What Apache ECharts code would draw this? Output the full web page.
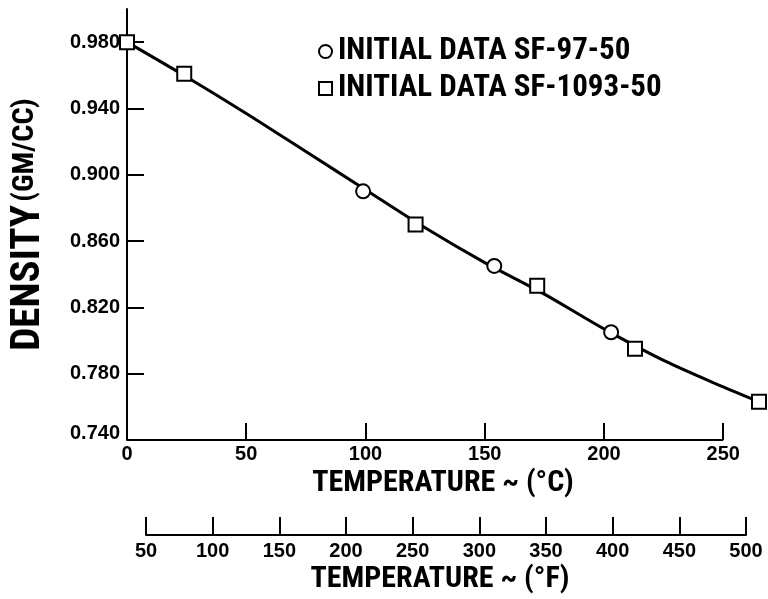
<!DOCTYPE html>
<html>
<head>
<meta charset="utf-8">
<script src="https://cdn.jsdelivr.net/npm/echarts@6/dist/echarts.min.js"></script>
<style>
  html, body { margin: 0; padding: 0; background: #ffffff; }
  #chart { width: 768px; height: 599px; }
</style>
</head>
<body>
<div id="chart"></div>
<script>
// Fonts: a condensed bold face for titles and legend, plain bold for tick numbers
const TITLE_FONT = "'Roboto Condensed', 'Fira Sans Condensed', 'Archivo Narrow', sans-serif";
const TICK_FONT = "'Liberation Sans', 'DejaVu Sans', sans-serif";

// Axis ticks
const densityTicks = [0.740, 0.780, 0.820, 0.860, 0.900, 0.940, 0.980];
const celsiusTicks = [0, 50, 100, 150, 200, 250];
const fahrenheitTicks = [50, 100, 150, 200, 250, 300, 350, 400, 450, 500];

// Measured densities (temperature in °C, density in gm/cc)
const sf97Temp = [99, 154, 203];
const sf97Density = [0.890, 0.845, 0.805];
const sf1093Temp = [0, 24, 121, 172, 213, 265];
const sf1093Density = [0.980, 0.961, 0.870, 0.833, 0.795, 0.763];

// Smoothed density curve
const curveTemp = [0, 25, 50, 75, 100, 125, 150, 175, 200, 225, 250, 265];
const curveDensity = [0.980, 0.959, 0.937, 0.914, 0.891, 0.868, 0.847, 0.828, 0.807, 0.788, 0.772, 0.763];

const legendNames = ['INITIAL DATA SF-97-50', 'INITIAL DATA SF-1093-50'];

const pairs = (xs, ys) => xs.map((x, i) => [x, ys[i]]);

const chart = echarts.init(document.getElementById('chart'), null, { renderer: 'canvas' });

const tickLabelStyle = {
  color: '#000',
  fontFamily: TICK_FONT,
  fontWeight: 'bold',
  fontSize: 20
};
const titleStyle = {
  color: '#000',
  fontFamily: TITLE_FONT,
  fontWeight: 'bold',
  fontSize: 30
};

// The °C scale runs a little past its last tick so the final reading fits;
// the drawn baseline stops at the last tick.
const cMin = 0;
const cMax = 265;
const densityMin = 0.74;
const densityMax = 1.0;

chart.setOption({
  backgroundColor: '#ffffff',
  animation: false,
  grid: [
    { left: 123, right: 9, top: 9, bottom: 159 },
    { left: 146, right: 22, top: 500, bottom: 64 }
  ],
  legend: {
    data: [
      { name: legendNames[0], icon: 'circle' },
      { name: legendNames[1], icon: 'rect' }
    ],
    orient: 'vertical',
    left: 313,
    top: 31,
    itemWidth: 13,
    itemHeight: 13,
    itemGap: 6,
    selectedMode: false,
    textStyle: {
      color: '#000',
      fontFamily: TITLE_FONT,
      fontWeight: 'bold',
      fontSize: 31,
      padding: [0, 0, 0, 1]
    }
  },
  xAxis: [
    {
      gridIndex: 0,
      type: 'value',
      min: cMin,
      max: cMax,
      splitLine: { show: false },
      axisLine: { show: false },
      axisTick: {
        inside: true,
        length: 17,
        customValues: celsiusTicks,
        lineStyle: { color: '#000', width: 2 }
      },
      axisLabel: Object.assign({ margin: 4, customValues: celsiusTicks }, tickLabelStyle),
      name: 'TEMPERATURE ~ (°C)',
      nameLocation: 'middle',
      nameGap: 28,
      nameTextStyle: titleStyle
    },
    {
      gridIndex: 1,
      type: 'value',
      min: 50,
      max: 500,
      interval: 50,
      splitLine: { show: false },
      axisLine: { lineStyle: { color: '#000', width: 2 } },
      axisTick: {
        inside: true,
        length: 18,
        customValues: fahrenheitTicks,
        lineStyle: { color: '#000', width: 2 }
      },
      axisLabel: Object.assign({ margin: 6, customValues: fahrenheitTicks }, tickLabelStyle),
      name: 'TEMPERATURE ~ (°F)',
      nameLocation: 'middle',
      nameGap: 29,
      nameTextStyle: Object.assign({ padding: [0, 12, 0, 0] }, titleStyle)
    }
  ],
  yAxis: [
    {
      gridIndex: 0,
      type: 'value',
      min: densityMin,
      max: densityMax,
      splitLine: { show: false },
      axisLine: { lineStyle: { color: '#000', width: 2 } },
      axisTick: {
        inside: true,
        length: 17,
        customValues: densityTicks,
        lineStyle: { color: '#000', width: 2 }
      },
      axisLabel: Object.assign({
        margin: 7,
        customValues: densityTicks,
        // the bottom label sits just above the baseline
        formatter: (v) => (Math.abs(v - densityMin) < 1e-9 ? '{low|' + v.toFixed(3) + '}' : v.toFixed(3)),
        rich: {
          low: { fontFamily: TICK_FONT, fontWeight: 'bold', fontSize: 20, color: '#000', padding: [0, 0, 14, 0] }
        }
      }, tickLabelStyle),
      name: '{a|DENSITY} {b|(GM/CC)}',
      nameLocation: 'middle',
      nameRotate: 90,
      nameGap: 78,
      nameTextStyle: {
        color: '#000',
        rich: {
          a: { fontFamily: TITLE_FONT, fontWeight: 'bold', fontSize: 41, color: '#000' },
          b: { fontFamily: TITLE_FONT, fontWeight: 'bold', fontSize: 30, color: '#000', padding: [0, 0, 6, 0] }
        }
      }
    },
    {
      gridIndex: 1,
      type: 'value',
      show: false
    }
  ],
  series: [
    {
      name: 'curve',
      type: 'line',
      xAxisIndex: 0,
      yAxisIndex: 0,
      data: pairs(curveTemp, curveDensity),
      smooth: 0.3,
      showSymbol: false,
      symbol: 'none',
      clip: false,
      silent: true,
      lineStyle: { color: '#000', width: 3 },
      z: 2,
      // °C baseline from the first to the last tick
      markLine: {
        silent: true,
        symbol: 'none',
        animation: false,
        label: { show: false },
        lineStyle: { color: '#000', width: 2, type: 'solid' },
        data: [[
          { coord: [celsiusTicks[0], densityMin] },
          { coord: [celsiusTicks[celsiusTicks.length - 1], densityMin] }
        ]]
      }
    },
    {
      name: legendNames[0],
      type: 'scatter',
      xAxisIndex: 0,
      yAxisIndex: 0,
      data: pairs(sf97Temp, sf97Density),
      symbol: 'circle',
      symbolSize: 14,
      clip: false,
      itemStyle: { color: '#fff', borderColor: '#000', borderWidth: 2, opacity: 1 },
      z: 3
    },
    {
      name: legendNames[1],
      type: 'scatter',
      xAxisIndex: 0,
      yAxisIndex: 0,
      data: pairs(sf1093Temp, sf1093Density),
      symbol: 'rect',
      symbolSize: 14,
      clip: false,
      itemStyle: { color: '#fff', borderColor: '#000', borderWidth: 2, opacity: 1 },
      z: 4
    }
  ]
});
</script>
</body>
</html>
